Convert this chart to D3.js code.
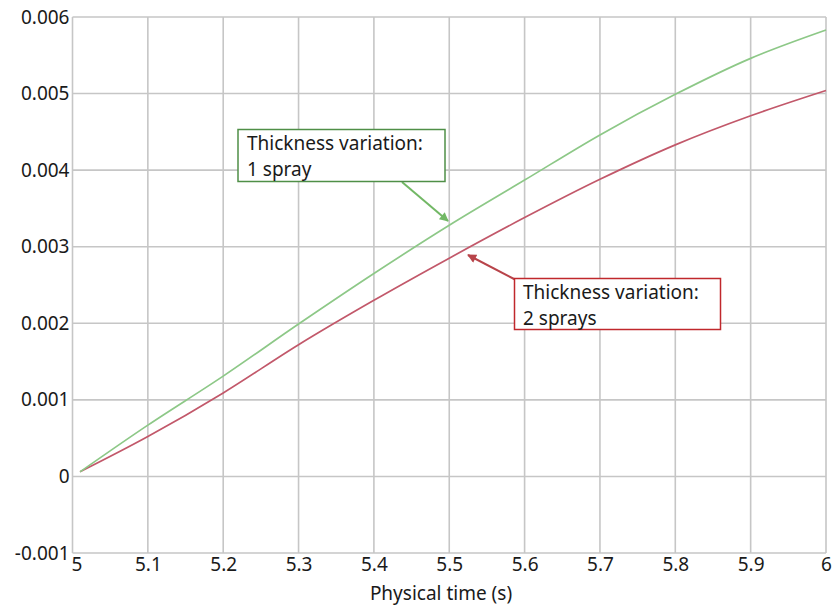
<!DOCTYPE html>
<html>
<head>
<meta charset="utf-8">
<script src="https://cdn.jsdelivr.net/npm/d3@7/dist/d3.min.js"></script>
<style>
  html, body { margin: 0; padding: 0; background: #fff; }
  svg { display: block; }
  text { font-family: "Noto Sans", "Open Sans", sans-serif; fill: #1a1a1a; }
</style>
</head>
<body>
<svg id="chart" width="838" height="607"></svg>
<script>
const times      = [5.01, 5.1, 5.2, 5.3, 5.4, 5.5, 5.6, 5.7, 5.8, 5.9, 6.0];
const oneSpray   = [0.00006, 0.00067, 0.00131, 0.00199, 0.00265, 0.00328, 0.00387, 0.00446, 0.00499, 0.00546, 0.00583];
const twoSprays  = [0.00006, 0.00052, 0.00109, 0.00172, 0.00230, 0.00285, 0.00338, 0.00388, 0.00433, 0.00471, 0.00504];
const xTicks     = [5, 5.1, 5.2, 5.3, 5.4, 5.5, 5.6, 5.7, 5.8, 5.9, 6];
const yTicks     = [-0.001, 0, 0.001, 0.002, 0.003, 0.004, 0.005, 0.006];
const xTickLabels = ["5", "5.1", "5.2", "5.3", "5.4", "5.5", "5.6", "5.7", "5.8", "5.9", "6"];
const yTickLabels = ["-0.001", "0", "0.001", "0.002", "0.003", "0.004", "0.005", "0.006"];
const xTitle = "Physical time (s)";
const note1 = ["Thickness variation:", "1 spray"];
const note2 = ["Thickness variation:", "2 sprays"];

const svg = d3.select("#chart");
const x = d3.scaleLinear().domain([5, 6]).range([72.5, 826]);
const y = d3.scaleLinear().domain([-0.001, 0.006]).range([553, 17]);

// grid
const grid = svg.append("g");
grid.selectAll("line.v").data(xTicks).join("line")
  .attr("x1", d => x(d)).attr("x2", d => x(d))
  .attr("y1", y(0.006)).attr("y2", y(-0.001))
  .attr("stroke", "#c6c6c6").attr("stroke-width", 1.6);
grid.selectAll("line.h").data(yTicks).join("line")
  .attr("y1", d => y(d)).attr("y2", d => y(d))
  .attr("x1", x(5)).attr("x2", x(6))
  .attr("stroke", "#c6c6c6").attr("stroke-width", 1.6);

// axes labels
const yAxis = d3.axisLeft(y).tickValues(yTicks).tickSize(0).tickPadding(3)
  .tickFormat((d, i) => yTickLabels[i]);
const gy = svg.append("g").attr("transform", `translate(${x(5)},0)`).call(yAxis);
gy.select(".domain").remove();
gy.selectAll("text").style("font-size", "19px").attr("fill", "#1a1a1a")
  .style("font-family", "'Noto Sans', sans-serif");

const xAxis = d3.axisBottom(x).tickValues(xTicks).tickSize(0).tickPadding(4)
  .tickFormat((d, i) => xTickLabels[i]);
const gx = svg.append("g").attr("transform", `translate(0,${y(-0.001)})`).call(xAxis);
gx.select(".domain").remove();
gx.selectAll("text").style("font-size", "19px").attr("fill", "#1a1a1a")
  .style("font-family", "'Noto Sans', sans-serif");
gx.selectAll(".tick").filter((d, i) => i === 0).select("text").attr("dx", 4);

svg.append("text").attr("x", 441).attr("y", 600).attr("text-anchor", "middle")
  .style("font-size", "19px").text(xTitle);

// lines
const line = d3.line().x(d => x(d[0])).y(d => y(d[1])).curve(d3.curveCatmullRom);
svg.append("path").datum(times.map((t, i) => [t, twoSprays[i]]))
  .attr("d", line).attr("fill", "none").attr("stroke", "#c2586a").attr("stroke-width", 1.7);
svg.append("path").datum(times.map((t, i) => [t, oneSpray[i]]))
  .attr("d", line).attr("fill", "none").attr("stroke", "#8dc887").attr("stroke-width", 1.7);

// arrow markers
const defs = svg.append("defs");
function marker(id, color) {
  defs.append("marker").attr("id", id).attr("viewBox", "0 0 10 10")
    .attr("refX", 9).attr("refY", 5).attr("markerWidth", 12).attr("markerHeight", 9)
    .attr("markerUnits", "userSpaceOnUse").attr("orient", "auto")
    .append("path").attr("d", "M0,0 L10,5 L0,10 z").attr("fill", color);
}
marker("ag", "#72b865");
marker("ar", "#b8444a");

function note(lines, tx, ty) {
  const t = svg.append("text").attr("x", tx).attr("y", ty).style("font-size", "19px");
  lines.forEach((s, i) => t.append("tspan").attr("x", tx).attr("dy", i === 0 ? 0 : 26).text(s));
}

// annotation 1
svg.append("line").attr("x1", 402).attr("y1", 182).attr("x2", 448).attr("y2", 221)
  .attr("stroke", "#72b865").attr("stroke-width", 2).attr("marker-end", "url(#ag)");
svg.append("rect").attr("x", 238).attr("y", 129.5).attr("width", 207).attr("height", 52)
  .attr("fill", "#fff").attr("stroke", "#4f8f47").attr("stroke-width", 1.5);
note(note1, 247, 149.5);

// annotation 2
svg.append("line").attr("x1", 516).attr("y1", 280).attr("x2", 468).attr("y2", 255)
  .attr("stroke", "#b8444a").attr("stroke-width", 2).attr("marker-end", "url(#ar)");
svg.append("rect").attr("x", 514.5).attr("y", 278.5).attr("width", 206).attr("height", 51)
  .attr("fill", "#fff").attr("stroke", "#c0282c").attr("stroke-width", 1.5);
note(note2, 523, 298.5);
</script>
</body>
</html>
